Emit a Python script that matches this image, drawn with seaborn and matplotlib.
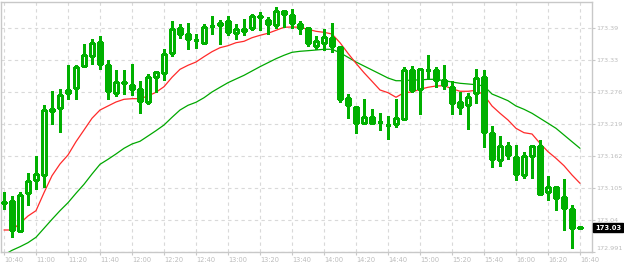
import math
import numpy as np
import pandas as pd
import matplotlib
matplotlib.use("Agg")
import matplotlib.pyplot as plt
import matplotlib.transforms as mtransforms
import seaborn as sns

# ---------------- data ----------------
time_labels = ["10:40", "11:00", "11:20", "11:40", "12:00", "12:20", "12:40",
               "13:00", "13:20", "13:40", "14:00", "14:20", "14:40", "15:00",
               "15:20", "15:40", "16:00", "16:20", "16:40"]

opens = [173.0795, 173.0813, 173.0279, 173.0956, 173.1187, 173.1276, 173.2416, 173.2470, 173.2737, 173.2826,
         173.3218, 173.3396, 173.3645, 173.3236, 173.2737, 173.2938, 173.2885, 173.2808, 173.2577, 173.3022,
         173.3093, 173.3449, 173.3895, 173.3793, 173.3692, 173.3633, 173.3941, 173.3948, 173.4019, 173.3806,
         173.3877, 173.3895, 173.4114, 173.4043, 173.3948, 173.4203, 173.4132, 173.3971, 173.3895, 173.3574,
         173.3638, 173.3717, 173.3556, 173.2653, 173.2493, 173.2213, 173.2309, 173.2226, 173.2172, 173.2185,
         173.2274, 173.3147, 173.2808, 173.3152, 173.3147, 173.2968, 173.2844, 173.2582, 173.2523, 173.2748,
         173.3027, 173.2024, 173.1543, 173.1798, 173.1602, 173.1287, 173.1615, 173.1798, 173.0984, 173.1062,
         173.0884, 173.0671, 173.0355]

highs = [173.0979, 173.0908, 173.0979, 173.1317, 173.1625, 173.2523, 173.2778, 173.2808, 173.3241, 173.3241,
         173.3610, 173.3704, 173.3758, 173.3325, 173.3152, 173.3152, 173.3259, 173.2951, 173.3081, 173.3134,
         173.3521, 173.4019, 173.3971, 173.3984, 173.3793, 173.3971, 173.4114, 173.4043, 173.4114, 173.3971,
         173.4055, 173.4149, 173.4185, 173.4091, 173.4274, 173.4205, 173.4238, 173.4019, 173.3897, 173.3752,
         173.3877, 173.3989, 173.3558, 173.2724, 173.2511, 173.2635, 173.2457, 173.2381, 173.2333, 173.2641,
         173.3205, 173.3223, 173.3164, 173.3419, 173.3200, 173.3241, 173.2951, 173.2760, 173.2737, 173.3164,
         173.3152, 173.2154, 173.1976, 173.1869, 173.1816, 173.1691, 173.1800, 173.1905, 173.1264, 173.1064,
         173.1205, 173.0742, 173.0362]

lows = [173.0681, 173.0183, 173.0277, 173.0742, 173.1038, 173.1068, 173.2195, 173.2042, 173.2630, 173.2641,
        173.3215, 173.3264, 173.3175, 173.2641, 173.2694, 173.2724, 173.2701, 173.2391, 173.2552, 173.2760,
        173.2974, 173.3407, 173.3727, 173.3531, 173.3549, 173.3620, 173.3799, 173.3610, 173.3781, 173.3699,
        173.3770, 173.3859, 173.3859, 173.3788, 173.3895, 173.3913, 173.3895, 173.3799, 173.3574, 173.3531,
        173.3508, 173.3478, 173.2587, 173.2302, 173.2035, 173.2185, 173.2185, 173.2089, 173.1928, 173.2142,
        173.2270, 173.2760, 173.2374, 173.2986, 173.2854, 173.2819, 173.2374, 173.2374, 173.2106, 173.2569,
        173.1775, 173.1429, 173.1442, 173.1572, 173.1187, 173.1233, 173.1233, 173.0931, 173.0842, 173.0663,
        173.0307, 172.9987, 173.0340]

closes = [173.0783, 173.0302, 173.0920, 173.1169, 173.1299, 173.2434, 173.2452, 173.2701, 173.2790, 173.3200,
          173.3414, 173.3628, 173.3253, 173.2773, 173.2938, 173.2915, 173.2819, 173.2594, 173.3022, 173.3116,
          173.3432, 173.3877, 173.3799, 173.3709, 173.3681, 173.3913, 173.3930, 173.3989, 173.3834, 173.3877,
          173.3852, 173.4114, 173.4091, 173.3977, 173.4198, 173.4144, 173.3984, 173.3895, 173.3628, 173.3663,
          173.3734, 173.3585, 173.2641, 173.2534, 173.2213, 173.2309, 173.2213, 173.2220, 173.2168, 173.2292,
          173.3147, 173.2796, 173.3164, 173.3145, 173.2968, 173.2879, 173.2569, 173.2498, 173.2676, 173.3004,
          173.2053, 173.1561, 173.1798, 173.1633, 173.1305, 173.1620, 173.1798, 173.0948, 173.1062, 173.0877,
          173.0699, 173.0343, 173.0345]

ma_fast = [173.0302, 173.0302, 173.0421, 173.0551, 173.0646, 173.0966, 173.1269, 173.1478, 173.1638, 173.1875,
           173.2083, 173.2292, 173.2439, 173.2511, 173.2582, 173.2630, 173.2641, 173.2641, 173.2689, 173.2755,
           173.2854, 173.3022, 173.3164, 173.3236, 173.3294, 173.3389, 173.3478, 173.3549, 173.3585, 173.3638,
           173.3663, 173.3727, 173.3770, 173.3806, 173.3859, 173.3913, 173.3918, 173.3913, 173.3877, 173.3841,
           173.3823, 173.3793, 173.3638, 173.3449, 173.3271, 173.3104, 173.2951, 173.2796, 173.2748, 173.2666,
           173.2748, 173.2760, 173.2808, 173.2844, 173.2867, 173.2872, 173.2819, 173.2773, 173.2773, 173.2790,
           173.2707, 173.2511, 173.2381, 173.2261, 173.2113, 173.2035, 173.2012, 173.1846, 173.1697, 173.1579,
           173.1447, 173.1282, 173.1134]

ma_slow = [172.9857, 172.9940, 173.0004, 173.0076, 173.0172, 173.0332, 173.0492, 173.0646, 173.0788, 173.0956,
           173.1116, 173.1299, 173.1472, 173.1561, 173.1656, 173.1757, 173.1834, 173.1882, 173.1976, 173.2071,
           173.2172, 173.2309, 173.2439, 173.2523, 173.2577, 173.2658, 173.2760, 173.2844, 173.2926, 173.2992,
           173.3057, 173.3134, 173.3211, 173.3282, 173.3353, 173.3414, 173.3467, 173.3485, 173.3496, 173.3508,
           173.3521, 173.3521, 173.3460, 173.3378, 173.3294, 173.3223, 173.3152, 173.3081, 173.3009, 173.2961,
           173.2961, 173.2974, 173.2974, 173.2986, 173.2986, 173.2961, 173.2938, 173.2915, 173.2903, 173.2890,
           173.2867, 173.2724, 173.2666, 173.2605, 173.2511, 173.2452, 173.2381, 173.2292, 173.2203, 173.2113,
           173.1994, 173.1875, 173.1757]

y_ticks = [172.991, 173.048, 173.105, 173.162, 173.219, 173.276, 173.333, 173.390]
y_tick_labels = ["172.991", "173.04", "173.105", "173.162", "173.219", "173.276", "173.33", "173.39"]

# ---------------- figure ----------------
sns.set_style("white")
plt.rcParams["font.family"] = ["DejaVu Sans"]

W, H = 624, 266
fig = plt.figure(figsize=(W / 100, H / 100), dpi=100)
fig.patch.set_facecolor("white")
ax = fig.add_axes([1 / W, 14 / H, 591 / W, 250.5 / H])

GREEN = "#00b000"
GRID = "#d9d9d9"
AXC = "#c8c8c8"
LBL = "#bcbcbc"

n = len(opens)
df = pd.DataFrame({"i": np.arange(n), "open": opens, "high": highs, "low": lows,
                   "close": closes, "fast": ma_fast, "slow": ma_slow})

# grid
ax.set_axisbelow(True)
ax.grid(True, color=GRID, linestyle=(0, (3, 3)), linewidth=0.8)

# moving averages via seaborn
sns.lineplot(data=df, x="i", y="slow", ax=ax, color="#00a800", linewidth=0.9, zorder=2)
sns.lineplot(data=df, x="i", y="fast", ax=ax, color="#ff2a2a", linewidth=0.9, zorder=2)

# candles
ax.vlines(df["i"], df["low"], df["high"], color=GREEN, linewidth=1.0, zorder=3, antialiased=False)
bull = df["close"] >= df["open"]
bottoms = np.minimum(df["open"], df["close"])
heights = np.maximum(np.abs(df["close"] - df["open"]), 0.0002)
ax.bar(df["i"][bull], heights[bull], bottom=bottoms[bull], width=0.52,
       facecolor="white", edgecolor=GREEN, linewidth=1.0, zorder=4, antialiased=False)
ax.bar(df["i"][~bull], heights[~bull], bottom=bottoms[~bull], width=0.52,
       facecolor=GREEN, edgecolor=GREEN, linewidth=1.0, zorder=4, antialiased=False)

# axes limits / ticks
ax.set_xlim(-0.375, 73.5)
ax.set_ylim(172.991, 172.991 + 250.5 * 0.057 / 32)
ax.set_xlabel("")
ax.set_ylabel("")

ax.set_xticks(np.arange(0, 4 * len(time_labels), 4))
ax.set_xticklabels(time_labels, ha="left")
ax.yaxis.tick_right()
ax.set_yticks(y_ticks)
ax.set_yticklabels(y_tick_labels)
ax.tick_params(axis="x", which="both", bottom=True, length=2.5, width=0.8, color=AXC,
               labelcolor=LBL, labelsize=4.8, pad=1.2)
ax.tick_params(axis="y", which="both", right=True, left=False, length=2.2, width=0.8,
               color=AXC, labelcolor=LBL, labelsize=4.6, pad=0.8)
for s in ax.spines.values():
    s.set_color(AXC)
    s.set_linewidth(1.0)

# lift the bottom y label a little, like the reference
lbls = ax.get_yticklabels()
lbls[0].set_transform(lbls[0].get_transform() +
                      mtransforms.ScaledTranslation(0, 3 / 72, fig.dpi_scale_trans))

# current price tag
last = closes[-1]
tag = "%.2f" % (math.floor(last * 100) / 100)
trans = mtransforms.blended_transform_factory(ax.transAxes, ax.transData)
ax.text(1.0050, last, tag, transform=trans, ha="left", va="center", color="white",
        fontsize=4.9, fontweight="bold", clip_on=False, zorder=10,
        bbox=dict(boxstyle="square,pad=0.22", facecolor="black", edgecolor="black"))

fig.savefig("out.png", dpi=100, facecolor="white")
